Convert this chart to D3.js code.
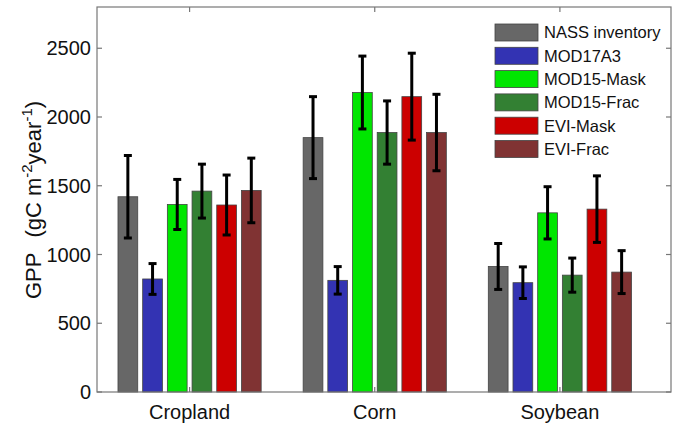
<!DOCTYPE html>
<html>
<head>
<meta charset="utf-8">
<script src="https://cdn.jsdelivr.net/npm/d3@7"></script>
<style>
  body { margin: 0; background: #fff; }
  text { font-family: "Liberation Sans", Arial, Helvetica, sans-serif; fill: #111; }
</style>
</head>
<body>
<div id="container"></div>
<script>
var categories = ['Cropland', 'Corn', 'Soybean'];
var seriesNames = ['NASS inventory', 'MOD17A3', 'MOD15-Mask', 'MOD15-Frac', 'EVI-Mask', 'EVI-Frac'];
var seriesColors = ['#676767', '#3333b3', '#00e600', '#338033', '#cc0000', '#803333'];
// mean GPP per series, one entry per category
var means = [
	[1420, 1850, 913],
	[822, 812, 795],
	[1364, 2178, 1303],
	[1461, 1887, 850],
	[1360, 2148, 1330],
	[1466, 1887, 872]
];
var errors = [
	[300, 298, 167],
	[112, 100, 115],
	[182, 265, 190],
	[196, 230, 124],
	[218, 316, 242],
	[235, 278, 156]
];
var yTicks = [0, 500, 1000, 1500, 2000, 2500];

var width = 674;
var height = 425;
var margin = {left: 97, right: 3, top: 7, bottom: 33};

var svg = d3.select('#container')
	.append('svg')
	.attr('width', width)
	.attr('height', height);

var x = d3.scaleLinear()
	.domain([0.5, 3.6])
	.range([margin.left, width - margin.right]);

var y = d3.scaleLinear()
	.domain([0, 2800])
	.range([height - margin.bottom, margin.top]);

var nSeries = seriesNames.length;
var groupWidth = 0.8;
var slot = groupWidth / nSeries;
var barWidth = slot * 0.8;

var bars = [];
means.forEach(function(row, s) {
	row.forEach(function(v, c) {
		bars.push({s: s, c: c, v: v, e: errors[s][c]});
	});
});

function barCenter(d) {
	return (d.c + 1) - groupWidth / 2 + slot * (d.s + 0.5);
}

svg.selectAll('rect.bar')
	.data(bars)
	.enter()
	.append('rect')
	.attr('class', 'bar')
	.attr('x', (d) => x(barCenter(d) - barWidth / 2))
	.attr('width', (d) => x(barWidth) - x(0))
	.attr('y', (d) => y(d.v))
	.attr('height', (d) => y(0) - y(d.v))
	.attr('fill', (d) => seriesColors[d.s])
	.attr('stroke', '#444')
	.attr('stroke-width', 0.8);

// error bars
var capHalf = 4;
var eb = svg.selectAll('g.err')
	.data(bars)
	.enter()
	.append('g')
	.attr('class', 'err')
	.attr('stroke', '#000')
	.attr('stroke-width', 3);

eb.append('line')
	.attr('x1', (d) => x(barCenter(d)))
	.attr('x2', (d) => x(barCenter(d)))
	.attr('y1', (d) => y(d.v - d.e))
	.attr('y2', (d) => y(d.v + d.e));
eb.append('line')
	.attr('x1', (d) => x(barCenter(d)) - capHalf)
	.attr('x2', (d) => x(barCenter(d)) + capHalf)
	.attr('y1', (d) => y(d.v + d.e))
	.attr('y2', (d) => y(d.v + d.e));
eb.append('line')
	.attr('x1', (d) => x(barCenter(d)) - capHalf)
	.attr('x2', (d) => x(barCenter(d)) + capHalf)
	.attr('y1', (d) => y(d.v - d.e))
	.attr('y2', (d) => y(d.v - d.e));

// axes box
var x0 = margin.left, x1 = width - margin.right;
var y0 = height - margin.bottom, y1 = margin.top;
var axisColor = '#777';

svg.append('rect')
	.attr('x', x0)
	.attr('y', y1)
	.attr('width', x1 - x0)
	.attr('height', y0 - y1)
	.attr('fill', 'none')
	.attr('stroke', axisColor)
	.attr('stroke-width', 1.2);

var tickLen = 5;
yTicks.forEach(function(t) {
	svg.append('line').attr('x1', x0).attr('x2', x0 + tickLen)
		.attr('y1', y(t)).attr('y2', y(t)).attr('stroke', axisColor).attr('stroke-width', 1.2);
	svg.append('line').attr('x1', x1).attr('x2', x1 - tickLen)
		.attr('y1', y(t)).attr('y2', y(t)).attr('stroke', axisColor).attr('stroke-width', 1.2);
	svg.append('text')
		.attr('x', x0 - 6)
		.attr('y', y(t))
		.attr('dy', '0.36em')
		.attr('text-anchor', 'end')
		.attr('font-size', 20)
		.text(t);
});

categories.forEach(function(cat, i) {
	svg.append('line').attr('x1', x(i + 1)).attr('x2', x(i + 1))
		.attr('y1', y0).attr('y2', y0 - tickLen).attr('stroke', axisColor).attr('stroke-width', 1.2);
	svg.append('line').attr('x1', x(i + 1)).attr('x2', x(i + 1))
		.attr('y1', y1).attr('y2', y1 + tickLen).attr('stroke', axisColor).attr('stroke-width', 1.2);
	svg.append('text')
		.attr('x', x(i + 1))
		.attr('y', y0 + 27)
		.attr('text-anchor', 'middle')
		.attr('font-size', 20)
		.text(cat);
});

// y label
var yl = svg.append('text')
	.attr('transform', 'translate(41,200) rotate(-90)')
	.attr('text-anchor', 'middle')
	.attr('font-size', 22);
yl.append('tspan').text('GPP');
yl.append('tspan').attr('dx', 15).text('(gC m');
yl.append('tspan').attr('dy', -9).attr('font-size', 15).text('-2');
yl.append('tspan').attr('dy', 9).text('year');
yl.append('tspan').attr('dy', -9).attr('font-size', 15).text('-1');
yl.append('tspan').attr('dy', 9).text(')');

// legend
var legend = svg.append('g').attr('transform', 'translate(495,24)');
var rowH = 23.3;
seriesNames.forEach(function(name, i) {
	legend.append('rect')
		.attr('x', 0)
		.attr('y', i * rowH)
		.attr('width', 43)
		.attr('height', 17)
		.attr('fill', seriesColors[i])
		.attr('stroke', '#444')
		.attr('stroke-width', 0.8);
	legend.append('text')
		.attr('x', 49)
		.attr('y', i * rowH + 8.5)
		.attr('dy', '0.36em')
		.attr('font-size', 16.5)
		.text(name);
});
</script>
</body>
</html>
